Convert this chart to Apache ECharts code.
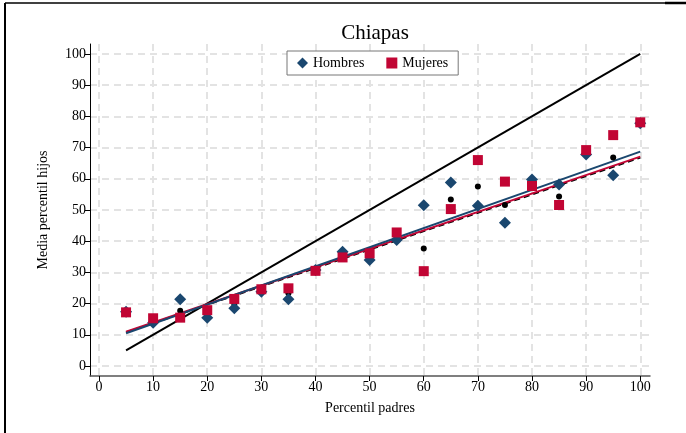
<!DOCTYPE html>
<html>
<head>
<meta charset="utf-8">
<script src="https://cdn.jsdelivr.net/npm/echarts@6/dist/echarts.min.js"></script>
<style>
html,body{margin:0;padding:0;background:#fff;}
#c{width:686px;height:433px;}
</style>
</head>
<body>
<div id="c"></div>
<script>
const xVals = [5,10,15,20,25,30,35,40,45,50,55,60,65,70,75,80,85,90,95,100];
const hombres = [17.4,13.9,21.4,15.5,18.5,23.8,21.4,30.8,36.6,34.0,40.4,51.5,58.8,51.4,45.9,59.8,58.2,67.8,61.1,77.8];
const mujeres = [17.2,15.3,15.5,17.9,21.5,24.6,24.9,30.5,34.8,36.1,42.8,30.4,50.3,66.0,59.1,57.7,51.6,69.2,74.0,78.1];
const pooled = [17.3,14.6,17.7,16.6,19.9,24.2,23.3,30.6,35.6,35.1,41.6,37.7,53.4,57.5,51.6,58.7,54.3,68.5,66.8,78.0];
const fitX = [5,100];
const fitHombres = [10.5,68.7];
const fitMujeres = [11.0,67.1];
const fitPooled = [10.8,66.8];
const diagY = [5,100];
const tickVals = [0,10,20,30,40,50,60,70,80,90,100];

const pairs = (xs, ys) => xs.map((x,i)=>[x, ys[i]]);
const serif = 'Liberation Serif';
const navy = '#1a476f';
const red = '#c10534';

const chart = echarts.init(document.getElementById('c'), null, {renderer:'canvas'});
chart.setOption({
  animation:false,
  backgroundColor:'#fff',
  title:{text:'Chiapas', left:370, textAlign:'center', top:18,
    textStyle:{fontFamily:serif, fontSize:21, fontWeight:'normal', color:'#000'}},
  legend:{left:287, top:51, width:168, height:26, padding:[5,10,5,10], itemGap:22,
    backgroundColor:'#fff', borderColor:'#777', borderWidth:1,
    itemWidth:11, itemHeight:11,
    textStyle:{fontFamily:serif, fontSize:14, color:'#000'},
    data:[{name:'Hombres', icon:'diamond'},{name:'Mujeres', icon:'rect'}]},
  grid:{left:90, right:36, top:44, bottom:57},
  xAxis:{type:'value', min:-1.66, max:101.8,
    name:'Percentil padres', nameLocation:'middle', nameGap:25,
    nameTextStyle:{fontFamily:serif, fontSize:14, color:'#000'},
    axisLine:{show:true, onZero:false, lineStyle:{color:'#555', width:1.5}},
    axisTick:{show:true, customValues:tickVals, length:5, lineStyle:{color:'#000'}},
    axisLabel:{customValues:tickVals, fontFamily:serif, fontSize:14, color:'#000', margin:4},
    splitLine:{show:true, lineStyle:{color:'#e3e3e3', type:[7,5], width:2}}},
  yAxis:{type:'value', min:-3.2, max:103.2,
    name:'Media percentil hijos', nameLocation:'middle', nameGap:40,
    nameTextStyle:{fontFamily:serif, fontSize:14, color:'#000'},
    axisLine:{show:true, onZero:false, lineStyle:{color:'#000', width:1}},
    axisTick:{show:true, customValues:tickVals, length:5, lineStyle:{color:'#000'}},
    axisLabel:{customValues:tickVals, fontFamily:serif, fontSize:14, color:'#000', margin:4},
    splitLine:{show:true, lineStyle:{color:'#e3e3e3', type:[7,5], width:2}}},
  graphic:[
    {type:'line', shape:{x1:5, y1:3, x2:5, y2:433}, style:{stroke:'#000', lineWidth:2}, z:100},
    {type:'line', shape:{x1:5, y1:3, x2:686, y2:3}, style:{stroke:'#000', lineWidth:1.5}, z:100},
    {type:'line', shape:{x1:665, y1:3, x2:686, y2:3}, style:{stroke:'#000', lineWidth:2.5}, z:100}
  ],
  series:[
    {name:'diag', type:'line', data:pairs(fitX, diagY), symbol:'none', silent:true,
      lineStyle:{color:'#000', width:2}, z:2},
    {name:'fitAll', type:'line', data:pairs(fitX, fitPooled), symbol:'none', silent:true,
      lineStyle:{color:'#000', width:2, type:[6,4]}, z:2},
    {name:'fitM', type:'line', data:pairs(fitX, fitMujeres), symbol:'none', silent:true,
      lineStyle:{color:red, width:2}, z:3},
    {name:'fitH', type:'line', data:pairs(fitX, fitHombres), symbol:'none', silent:true,
      lineStyle:{color:navy, width:2}, z:3},
    {name:'Promedio', type:'scatter', data:pairs(xVals, pooled), symbol:'circle', symbolSize:6,
      itemStyle:{color:'#000', opacity:1}, z:4},
    {name:'Hombres', type:'scatter', data:pairs(xVals, hombres), symbol:'diamond', symbolSize:12,
      itemStyle:{color:navy, opacity:1}, z:5},
    {name:'Mujeres', type:'scatter', data:pairs(xVals, mujeres), symbol:'rect', symbolSize:10,
      itemStyle:{color:red, opacity:1}, z:6}
  ]
});
</script>
</body>
</html>
